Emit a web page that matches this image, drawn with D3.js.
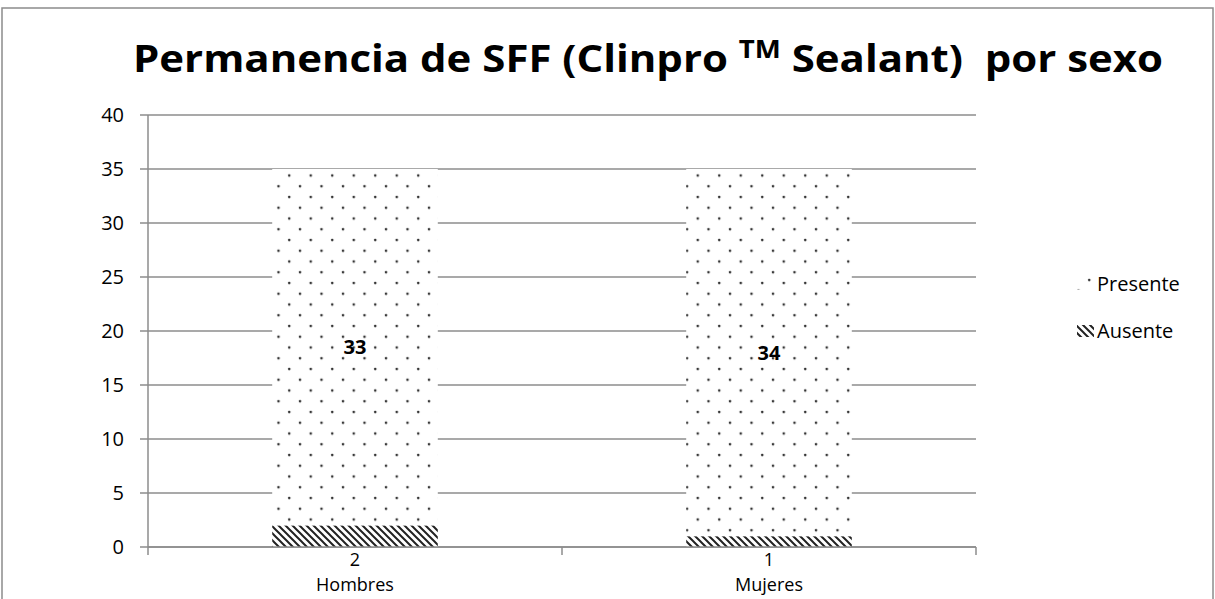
<!DOCTYPE html>
<html>
<head>
<meta charset="utf-8">
<script src="https://cdn.jsdelivr.net/npm/d3@7"></script>
<style>
  body { margin: 0; background: #fff; }
  svg { display: block; font-family: "Open Sans", "Noto Sans", sans-serif; }
</style>
</head>
<body>
<div id="chart"></div>
<script>
const categories = ["Hombres", "Mujeres"];
const series = ["Ausente", "Presente"];
const ausente = [2, 1];
const presente = [33, 34];
const yTicks = [0, 5, 10, 15, 20, 25, 30, 35, 40];

const W = 1215, H = 599;
const margin = { top: 115, right: 239, bottom: 52, left: 148 };
const width = W - margin.left - margin.right;
const height = H - margin.top - margin.bottom;

const svg = d3.select("#chart").append("svg")
  .attr("width", W)
  .attr("height", H);

// patterns
const defs = svg.append("defs");
const dots = defs.append("pattern")
  .attr("id", "dots")
  .attr("patternUnits", "userSpaceOnUse")
  .attr("width", 21.5).attr("height", 21.5)
  .attr("x", 276).attr("y", 367.3);
dots.append("rect").attr("width", 21.5).attr("height", 21.5).attr("fill", "#fff");
dots.append("circle").attr("cx", 5).attr("cy", 5).attr("r", 1.3).attr("fill", "#333");
dots.append("circle").attr("cx", 15.75).attr("cy", 15.75).attr("r", 1.3).attr("fill", "#333");

const hatch = defs.append("pattern")
  .attr("id", "hatch")
  .attr("patternUnits", "userSpaceOnUse")
  .attr("width", 7).attr("height", 7);
hatch.append("rect").attr("width", 7).attr("height", 7).attr("fill", "#fff");
hatch.append("path")
  .attr("d", "M-1,-1 L8,8 M-1,6 L1,8 M6,-1 L8,1")
  .attr("stroke", "#222").attr("stroke-width", 2);

// outer border
svg.append("rect")
  .attr("x", 2).attr("y", 8)
  .attr("width", W - 4).attr("height", H + 10)
  .attr("fill", "none").attr("stroke", "#8c8c8c").attr("stroke-width", 1.5);

// title
const title = svg.append("text")
  .attr("x", 648).attr("y", 72)
  .attr("text-anchor", "middle")
  .attr("font-weight", "bold")
  .attr("font-size", 38)
  .attr("textLength", 1030)
  .attr("lengthAdjust", "spacingAndGlyphs")
  .style("white-space", "pre")
  .attr("fill", "#000");
title.append("tspan").text("Permanencia de SFF (Clinpro ");
title.append("tspan").attr("font-size", 25).attr("dy", -14).text("TM");
title.append("tspan").attr("dy", 14).text(" Sealant)  por sexo");

const g = svg.append("g")
  .attr("transform", `translate(${margin.left},${margin.top})`);

const x = d3.scaleBand()
  .domain(categories)
  .range([0, width])
  .paddingInner(0.6)
  .paddingOuter(0.3);

const y = d3.scaleLinear()
  .domain([0, 40])
  .range([height, 0]);

// gridlines
g.append("g")
  .selectAll("line")
  .data(yTicks)
  .join("line")
  .attr("x1", -8).attr("x2", width)
  .attr("y1", d => y(d)).attr("y2", d => y(d))
  .attr("stroke", "#8c8c8c").attr("stroke-width", 1.5);

// y labels
g.append("g")
  .selectAll("text")
  .data(yTicks)
  .join("text")
  .attr("x", -24)
  .attr("y", d => y(d))
  .attr("dy", "0.36em")
  .attr("text-anchor", "end")
  .attr("font-size", 20)
  .text(d => d);

// stacked bars
const rows = categories.map((c, i) => ({ cat: c, Ausente: ausente[i], Presente: presente[i] }));
const stack = d3.stack().keys(series)(rows);
const fills = { Ausente: "url(#hatch)", Presente: "url(#dots)" };

g.selectAll("g.layer")
  .data(stack)
  .join("g")
  .attr("class", "layer")
  .attr("fill", d => fills[d.key])
  .selectAll("rect")
  .data(d => d)
  .join("rect")
  .attr("x", d => x(d.data.cat))
  .attr("y", d => y(d[1]))
  .attr("width", x.bandwidth())
  .attr("height", d => y(d[0]) - y(d[1]));

// presente labels
g.selectAll("text.plabel")
  .data(stack[1])
  .join("text")
  .attr("class", "plabel")
  .attr("x", d => x(d.data.cat) + x.bandwidth() / 2)
  .attr("y", d => y((d[0] + d[1]) / 2))
  .attr("dy", "0.36em")
  .attr("text-anchor", "middle")
  .attr("font-weight", "bold")
  .attr("font-size", 20)
  .text(d => d.data.Presente);

// axes lines
g.append("line")
  .attr("x1", 0).attr("x2", 0).attr("y1", 0).attr("y2", height)
  .attr("stroke", "#8c8c8c").attr("stroke-width", 1.5);
g.append("line")
  .attr("x1", 0).attr("x2", width).attr("y1", height).attr("y2", height)
  .attr("stroke", "#8c8c8c").attr("stroke-width", 1.5);

// x tick marks at band boundaries
const bounds = [0, width / 2, width];
g.append("g")
  .selectAll("line")
  .data(bounds)
  .join("line")
  .attr("x1", d => d).attr("x2", d => d)
  .attr("y1", height).attr("y2", height + 8)
  .attr("stroke", "#8c8c8c").attr("stroke-width", 1.5);

// ausente values under the axis
g.selectAll("text.alabel")
  .data(stack[0])
  .join("text")
  .attr("class", "alabel")
  .attr("x", d => x(d.data.cat) + x.bandwidth() / 2)
  .attr("y", height + 19)
  .attr("text-anchor", "middle")
  .attr("font-size", 18)
  .text(d => d.data.Ausente);

// category labels
g.selectAll("text.cat")
  .data(categories)
  .join("text")
  .attr("class", "cat")
  .attr("x", d => x(d) + x.bandwidth() / 2)
  .attr("y", height + 44)
  .attr("text-anchor", "middle")
  .attr("font-size", 18)
  .text(d => d);

// legend
const legendItems = ["Presente", "Ausente"];
const legend = svg.append("g")
  .attr("transform", "translate(1077,284)");
legendItems.forEach((k, i) => {
  legend.append("rect")
    .attr("x", 0).attr("y", i * 47 - 6)
    .attr("width", 17).attr("height", 12)
    .attr("fill", fills[k]);
  legend.append("text")
    .attr("x", 20).attr("y", i * 47)
    .attr("dy", "0.36em")
    .attr("font-size", 20)
    .text(k);
});
</script>
</body>
</html>
